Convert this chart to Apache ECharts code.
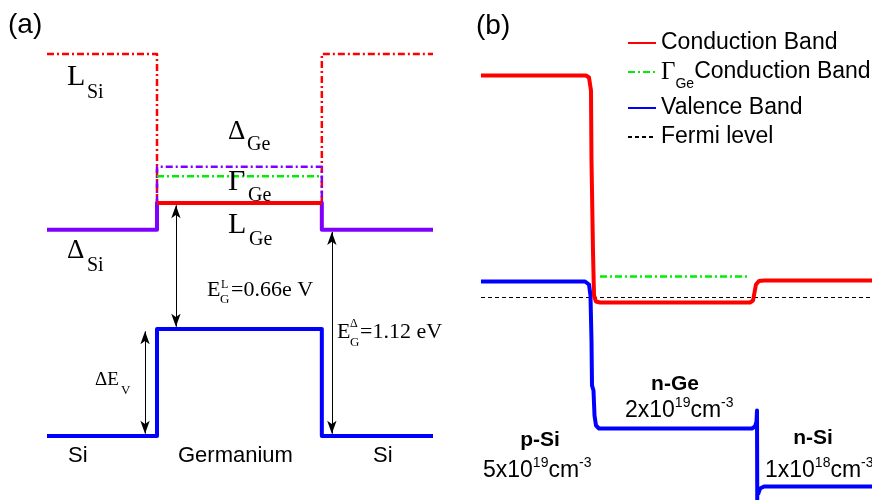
<!DOCTYPE html>
<html><head><meta charset="utf-8">
<script src="https://cdn.jsdelivr.net/npm/echarts@6/dist/echarts.min.js"></script>
<style>html,body{margin:0;padding:0;background:#fff}#c{width:872px;height:500px}</style>
</head><body><div id="c"></div>
<script>
// ---------- Panel (a): schematic Si / Ge / Si band alignment (x: position %, y: energy eV) ----------
const aValenceX  = [0, 28.5, 28.5, 71.2, 71.2, 100];
const aValenceE  = [0, 0, 0.56, 0.56, 0, 0];
const aDeltaSiX  = [0, 28.5, 28.5, 71.2, 71.2, 100];
const aDeltaSiE  = [1.08, 1.08, 1.22, 1.22, 1.08, 1.08];
const aLGeX      = [28.5, 71.2];
const aLGeE      = [1.22, 1.22];
const aGammaGeX  = [28.5, 71.2];
const aGammaGeE  = [1.36, 1.36];
const aDeltaGeX  = [28.5, 28.5, 71.2, 71.2];
const aDeltaGeE  = [1.22, 1.41, 1.41, 1.22];
const aLSiLeftX  = [0, 28.5, 28.5];
const aLSiLeftE  = [2.0, 2.0, 1.22];
const aLSiRightX = [71.2, 71.2, 100];
const aLSiRightE = [1.22, 2.0, 2.0];
// arrows: x position, from-energy, to-energy  (ΔEv, E_G^L, E_G^Δ)
const aArrowX    = [25.4, 33.4, 73.8];
const aArrowFrom = [0.56, 1.22, 1.08];
const aArrowTo   = [0, 0.56, 0];

// ---------- Panel (b): simulated p-Si / n-Ge / n-Si band diagram (x: position %, y: energy eV, Fermi = 0) ----------
const bCondX  = [0, 26.85, 27.62, 28.13, 28.26, 28.64, 28.9, 29.41, 30.43, 68.8, 69.57, 69.95, 70.33, 71.1, 72.38, 100];
const bCondE  = [1.11, 1.11, 1.10, 1.035, 0.685, 0.235, 0.01, -0.02, -0.025, -0.025, -0.015, 0.025, 0.065, 0.0825, 0.085, 0.085];
const bValX   = [0, 26.6, 27.62, 28.0, 28.26, 28.39, 28.77, 29.03, 29.41, 30.18, 69.3, 70.08, 70.46, 70.59, 70.66];
const bValE   = [0.08, 0.08, 0.065, 0.01, -0.215, -0.44, -0.465, -0.59, -0.64, -0.655, -0.655, -0.645, -0.62, -0.565, -1.05];
const bValRX  = [70.84, 71.35, 72.38, 100];
const bValRE  = [-0.985, -0.955, -0.945, -0.945];
const bGammaX = [30.43, 68.29];
const bGammaE = [0.105, 0.105];
const bFermiX = [0, 100];
const bFermiE = [0, 0];

const legendNames = ['Conduction Band', 'ΓGe Conduction Band', 'Valence Band', 'Fermi level'];

const RED = '#ff0000', BLUE = '#0000ff', GREEN = '#00ee00', PURPLE = '#8000ff';
const DASHDOT = [7, 3, 2, 3];

function pts(xs, ys) { return xs.map((x, i) => [x, ys[i]]); }
function line(name, idx, xs, ys, color, width, type, z) {
  return { name, type: 'line', xAxisIndex: idx, yAxisIndex: idx, data: pts(xs, ys),
    symbol: 'none', silent: true, clip: idx === 1, z: z || 2,
    lineStyle: { color, width, type: type || 'solid', join: 'round', cap: 'butt' },
    itemStyle: { color } };
}

const arrowData = aArrowX.map((x, i) => {
  const up = aArrowFrom[i] > aArrowTo[i];
  const inset = 0.012;
  return [{ coord: [x, aArrowFrom[i] - (up ? inset : -inset)] }, { coord: [x, aArrowTo[i] + (up ? inset : -inset)] }];
});

// ---- text helpers ----
const SERIF = 'Liberation Serif', SANS = 'Liberation Sans';
function txt(s, x, base, size, family, opt) {
  opt = opt || {};
  const weight = opt.weight || 'normal';
  const font = weight + ' ' + size + 'px "' + family + '"';
  return { type: 'text', x: x, y: base - 0.34 * size, silent: true, z: 100,
    style: { text: s, font: font, fill: '#000', align: opt.align || 'left', verticalAlign: 'middle',
             textAlign: opt.align || 'left', textVerticalAlign: 'middle' } };
}
const mctx = document.createElement('canvas').getContext('2d');
function run(x, base, parts) {
  const out = []; let cx = x;
  parts.forEach(p => {
    const [s, size, family, dy] = p;
    out.push(txt(s, cx, base + (dy || 0), size, family));
    mctx.font = size + 'px "' + family + '"';
    cx += mctx.measureText(s).width;
  });
  return out;
}

const graphics = [].concat(
  [txt('(a)', 8, 35, 28, SANS), txt('(b)', 476, 36, 28, SANS)],
  [txt('L', 67, 87, 30, SERIF), txt('Si', 87, 100, 20, SERIF)],
  [txt('Δ', 228, 141, 27, SERIF), txt('Ge', 247, 152, 20, SERIF)],
  [txt('Γ', 228, 192, 30, SERIF), txt('Ge', 248, 203, 20, SERIF)],
  [txt('L', 228, 235, 30, SERIF), txt('Ge', 249, 247, 20, SERIF)],
  [txt('Δ', 67, 260, 27, SERIF), txt('Si', 87, 273, 20, SERIF)],
  [txt('E', 207, 298, 22, SERIF), txt('G', 220, 304, 13, SERIF), txt('L', 221, 289, 12, SERIF), txt('=0.66e V', 231, 298, 22, SERIF)],
  [txt('E', 337, 340, 22, SERIF), txt('G', 350, 347, 13, SERIF), txt('Δ', 350, 328, 12, SERIF), txt('=1.12 eV', 360, 340, 22, SERIF)],
  [txt('ΔE', 95, 386, 19, SERIF), txt('V', 121, 395, 13, SERIF)],
  [txt('Si', 68, 463, 22, SANS), txt('Germanium', 178, 463, 22, SANS), txt('Si', 373, 463, 22, SANS)],
  [txt('p-Si', 540, 447, 21, SANS, { weight: 'bold', align: 'center' }),
   txt('n-Ge', 675, 391, 21, SANS, { weight: 'bold', align: 'center' }),
   txt('n-Si', 813, 445, 21, SANS, { weight: 'bold', align: 'center' })],
  run(483, 478, [['5x10', 23, SANS], ['19', 14, SANS, -10], ['cm', 23, SANS], ['-3', 14, SANS, -10]]),
  run(625, 418, [['2x10', 23, SANS], ['19', 14, SANS, -10], ['cm', 23, SANS], ['-3', 14, SANS, -10]]),
  run(765, 478, [['1x10', 23, SANS], ['18', 14, SANS, -10], ['cm', 23, SANS], ['-3', 14, SANS, -10]])
);

const chart = echarts.init(document.getElementById('c'), null, { renderer: 'canvas' });
chart.setOption({
  animation: false,
  backgroundColor: '#fff',
  textStyle: { fontFamily: SANS },
  grid: [
    { left: 47, top: 54, width: 386, height: 382 },
    { left: 481, top: 0, width: 391, height: 500 }
  ],
  xAxis: [
    { type: 'value', gridIndex: 0, min: 0, max: 100, show: false },
    { type: 'value', gridIndex: 1, min: 0, max: 100, show: false }
  ],
  yAxis: [
    { type: 'value', gridIndex: 0, min: 0, max: 2.0, show: false },
    { type: 'value', gridIndex: 1, min: -1.0125, max: 1.4875, show: false }
  ],
  legend: {
    data: legendNames, orient: 'vertical', left: 622, top: 26, itemWidth: 28, itemHeight: 14, itemGap: 5,
    selectedMode: false,
    itemStyle: { opacity: 0, color: 'transparent', borderWidth: 0 },
    textStyle: { fontFamily: SANS, fontSize: 23, color: '#000', lineHeight: 24,
      rich: {
        g: { fontFamily: SERIF, fontSize: 25, lineHeight: 24, verticalAlign: 'top', color: '#000' },
        s: { fontFamily: SANS, fontSize: 14, lineHeight: 14, padding: [17, 0, 0, 0], verticalAlign: 'top', color: '#000' },
        n: { fontFamily: SANS, fontSize: 23, lineHeight: 24, verticalAlign: 'top', color: '#000' }
      } },
    formatter: function (name) { return name === 'ΓGe Conduction Band' ? '{g|Γ}{s|Ge}{n|Conduction Band}' : name; }
  },
  series: [
    // panel (a)
    line('L_Si left', 0, aLSiLeftX, aLSiLeftE, RED, 2.5, DASHDOT, 2),
    line('L_Si right', 0, aLSiRightX, aLSiRightE, RED, 2.5, DASHDOT, 2),
    line('Δ_Ge', 0, aDeltaGeX, aDeltaGeE, PURPLE, 2.5, DASHDOT, 2),
    line('Γ_Ge', 0, aGammaGeX, aGammaGeE, GREEN, 2.5, DASHDOT, 2),
    line('Δ_Si', 0, aDeltaSiX, aDeltaSiE, PURPLE, 4, 'solid', 3),
    line('L_Ge', 0, aLGeX, aLGeE, RED, 4, 'solid', 4),
    line('Valence (a)', 0, aValenceX, aValenceE, BLUE, 4, 'solid', 4),
    { name: 'arrows', type: 'line', xAxisIndex: 0, yAxisIndex: 0, data: [], silent: true, z: 5,
      markLine: { silent: true, symbol: ['arrow', 'arrow'], symbolSize: [7, 13], animation: false,
        label: { show: false }, emphasis: { disabled: true },
        lineStyle: { color: '#000', width: 1, type: 'solid' }, data: arrowData } },
    // panel (b)
    line('Fermi level', 1, bFermiX, bFermiE, '#000', 1, [4, 3], 2),
    line('ΓGe Conduction Band', 1, bGammaX, bGammaE, GREEN, 2.5, DASHDOT, 3),
    line('Valence Band', 1, bValX, bValE, BLUE, 4, 'solid', 4),
    line('Valence Band', 1, bValRX, bValRE, BLUE, 4, 'solid', 4),
    line('Conduction Band', 1, bCondX, bCondE, RED, 4, 'solid', 5)
  ],
  graphic: graphics
});
</script></body></html>
